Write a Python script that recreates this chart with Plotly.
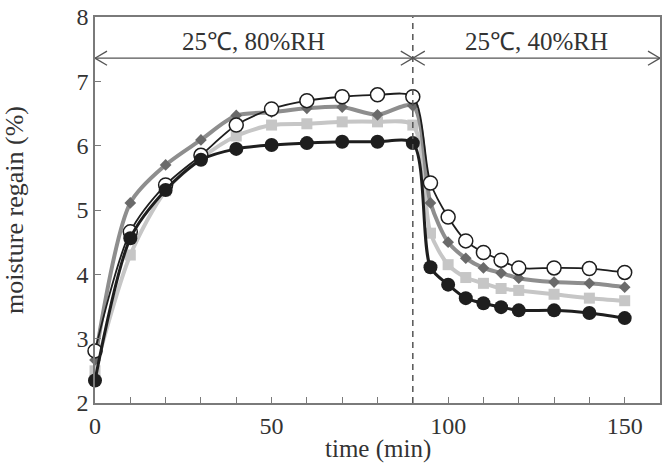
import plotly.graph_objects as go

time_min = [0, 10, 20, 30, 40, 50, 60, 70, 80, 90, 95, 100, 105, 110, 115, 120, 130, 140, 150]
open_circle = [2.81, 4.66, 5.39, 5.85, 6.32, 6.57, 6.70, 6.76, 6.79, 6.76, 5.42, 4.89, 4.52, 4.34, 4.22, 4.10, 4.10, 4.09, 4.03]
filled_circle = [2.35, 4.56, 5.31, 5.78, 5.95, 6.01, 6.04, 6.06, 6.06, 6.04, 4.11, 3.84, 3.63, 3.55, 3.49, 3.44, 3.44, 3.40, 3.32]
gray_square = [2.50, 4.30, 5.30, 5.80, 6.15, 6.32, 6.34, 6.37, 6.37, 6.32, 4.64, 4.15, 3.95, 3.86, 3.78, 3.75, 3.69, 3.63, 3.59]
gray_diamond = [2.67, 5.11, 5.70, 6.09, 6.47, 6.52, 6.58, 6.60, 6.48, 6.62, 5.11, 4.50, 4.25, 4.10, 4.02, 3.94, 3.88, 3.86, 3.80]

phase_labels = ["25℃, 80%RH", "25℃, 40%RH"]
phase_bounds = [0, 90, 160]
x_title = "time (min)"
y_title = "moisture regain (%)"

FONT = "Liberation Serif, Times New Roman, serif"
AX = "#7a7a7a"

fig = go.Figure()

fig.add_trace(go.Scatter(
    x=time_min, y=gray_square, mode="lines+markers", cliponaxis=False,
    line=dict(color="#c6c6c6", width=4, shape="spline", smoothing=0.8),
    marker=dict(symbol="square", size=11, color="#c6c6c6"),
    showlegend=False))
fig.add_trace(go.Scatter(
    x=time_min, y=gray_diamond, mode="lines+markers", cliponaxis=False,
    line=dict(color="#8e8e8e", width=4, shape="spline", smoothing=0.8),
    marker=dict(symbol="diamond", size=9, color="#6a6a6a"),
    showlegend=False))
fig.add_trace(go.Scatter(
    x=time_min, y=open_circle, mode="lines+markers", cliponaxis=False,
    line=dict(color="#1e1e1e", width=1.8, shape="spline", smoothing=0.8),
    marker=dict(symbol="circle", size=14, color="white", line=dict(color="#1e1e1e", width=1.5)),
    showlegend=False))
fig.add_trace(go.Scatter(
    x=time_min, y=filled_circle, mode="lines+markers", cliponaxis=False,
    line=dict(color="#1e1e1e", width=3, shape="spline", smoothing=0.8),
    marker=dict(symbol="circle", size=14, color="#1e1e1e"),
    showlegend=False))

# dashed divider
fig.add_shape(type="line", x0=phase_bounds[1], x1=phase_bounds[1], y0=2, y1=8,
              line=dict(color="#555555", width=1.5, dash="6px,5px"))

# double-headed arrows with open chevrons
arrow_y = 7.36
dx, dy = 3.4, 0.11
for i, lab in enumerate(phase_labels):
    a, b = phase_bounds[i], phase_bounds[i + 1]
    fig.add_shape(type="line", x0=a, x1=b, y0=arrow_y, y1=arrow_y, line=dict(color="#555555", width=1.3))
    for tip, s in ((a, 1), (b, -1)):
        fig.add_shape(type="path",
                      path=f"M {tip + s*dx} {arrow_y + dy} L {tip} {arrow_y} L {tip + s*dx} {arrow_y - dy}",
                      line=dict(color="#555555", width=1.3))
    fig.add_annotation(x=(a + b) / 2, y=arrow_y, yshift=17, text=lab, showarrow=False,
                       font=dict(family=FONT, size=25, color="#333333"))

# x-axis title
fig.add_annotation(x=0.5, xref="paper", y=0, yref="paper", yanchor="middle", yshift=-46,
                   text=x_title, showarrow=False, font=dict(family=FONT, size=25, color="#333333"))

fig.update_layout(
    width=665, height=463,
    margin=dict(l=95, r=5, t=17, b=60, autoexpand=False),
    paper_bgcolor="white", plot_bgcolor="white",
    font=dict(family=FONT, size=24, color="#333333"),
    xaxis=dict(range=[0, 160], tickvals=[0, 50, 100, 150], ticks="inside", ticklen=6,
               tickcolor=AX, tickwidth=1.3, automargin=False,
               minor=dict(tickvals=list(range(0, 160, 10)), ticks="inside", ticklen=6, tickcolor=AX, tickwidth=1.3),
               showline=True, linecolor=AX, linewidth=1.5, mirror=True, showgrid=False, zeroline=False),
    yaxis=dict(range=[2, 8], dtick=1, ticks="inside", ticklen=6, tickcolor=AX, tickwidth=1.3,
               automargin=False,
               showline=True, linecolor=AX, linewidth=1.5, mirror=True, showgrid=False, zeroline=False,
               title=dict(text=y_title, font=dict(size=26), standoff=46)),
)

fig.write_html("out.html")
